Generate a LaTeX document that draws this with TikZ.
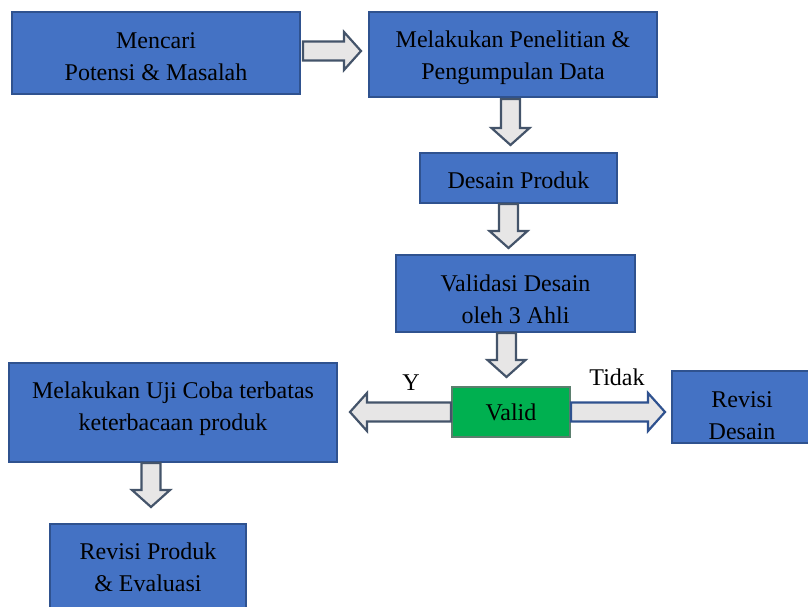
\documentclass[tikz,border=0pt]{standalone}
\usepackage{fontspec}
\setmainfont{Liberation Serif}
\usepackage{tikz}
\usetikzlibrary{calc}
\usepackage{xcolor}

\definecolor{boxblue}{HTML}{4472C4}
\definecolor{boxline}{HTML}{2F528F}
\definecolor{okgreen}{HTML}{00B050}
\definecolor{okline}{HTML}{5B7F6E}
\definecolor{arrfill}{HTML}{E7E6E6}
\definecolor{arrline}{HTML}{44546A}

\tikzset{
	box/.style={draw=boxline, fill=boxblue, line width=2pt, align=center,
		font=\fontsize{24}{32}\selectfont, inner sep=0pt},
	okbox/.style={box, draw=okline, fill=okgreen},
	bigarrow/.style={draw=arrline, fill=arrfill, line width=2.2pt, line join=miter},
	lbl/.style={font=\fontsize{24}{28}\selectfont, inner sep=0pt}
}

% struts to move the text inside a box
\newcommand{\tgap}[1]{\rule{0pt}{#1}}
\newcommand{\bgap}[1]{\rule[-#1]{0pt}{#1}}

% block arrow from #2 to #3
\newcommand{\blockarrow}[3][]{%
	\draw[bigarrow,#1] let \p1=(#2), \p2=(#3), \n1={atan2(\y2-\y1,\x2-\x1)} in
	($(\p1)+({\n1+90}:9.5pt)$) -- ($(\p2)+({\n1+180}:17pt)+({\n1+90}:9.5pt)$)
	-- ($(\p2)+({\n1+180}:17pt)+({\n1+90}:19pt)$) -- (\p2)
	-- ($(\p2)+({\n1+180}:17pt)+({\n1-90}:19pt)$)
	-- ($(\p2)+({\n1+180}:17pt)+({\n1-90}:9.5pt)$)
	-- ($(\p1)+({\n1-90}:9.5pt)$) -- cycle;}

\begin{document}
\begin{tikzpicture}[x=1pt, y=-1pt]
		
		\path[use as bounding box, clip] (0,0) rectangle (808,607);
		
		% boxes
		\node[box, minimum width=288, minimum height=82] (potensi) at (156,53) {\tgap{22.4pt}Mencari\\Potensi \& Masalah};
		\node[box, minimum width=288, minimum height=85] (penelitian) at (513,54.5) {\tgap{22.4pt}Melakukan Penelitian \&\\Pengumpulan Data};
		\node[box, minimum width=197, minimum height=50] (desain) at (518.5,178) {\tgap{20.4pt}Desain Produk};
		\node[box, minimum width=239, minimum height=77] (validasi) at (515.5,293.5) {\tgap{28.4pt}Validasi Desain\\oleh 3 Ahli};
		\node[okbox, minimum width=118, minimum height=50] (valid) at (511,412) {Valid};
		\node[box, minimum width=140, minimum height=72] (revisidesain) at (742,407) {\tgap{32.4pt}Revisi\\Desain};
		\node[box, minimum width=328, minimum height=99] (ujicoba) at (173,412.5) {Melakukan Uji Coba terbatas\\keterbacaan produk\bgap{13.2pt}};
		\node[box, minimum width=196, minimum height=90] (revisiproduk) at (148,569) {Revisi Produk\\\& Evaluasi\bgap{4pt}};
		
		% arrows
		\blockarrow{$(potensi.east)+(2,-2)$}{$(potensi.east -| penelitian.west)+(-7,-2)$}
		\blockarrow{$(penelitian.south)+(-2.5,1)$}{$(penelitian.south |- desain.north)+(-2.5,-7)$}
		\blockarrow{$(desain.south)+(-10,0)$}{$(desain.south |- validasi.north)+(-10,-6)$}
		\blockarrow{$(validasi.south)+(-9,0)$}{$(validasi.south |- valid.north)+(-9,-9)$}
		\blockarrow{valid.west}{$(valid.west -| ujicoba.east)+(12,0)$}
		\blockarrow[draw=boxline]{valid.east}{$(valid.east -| revisidesain.west)+(-6,0)$}
		\blockarrow{$(ujicoba.south)+(-22,0)$}{$(ujicoba.south |- revisiproduk.north)+(-22,-16)$}
		
		% labels
		\node[lbl] (ya) at (411,383) {Y};
		\node[lbl] (tidak) at (617,377) {Tidak};
		
	\end{tikzpicture}
\end{document}
